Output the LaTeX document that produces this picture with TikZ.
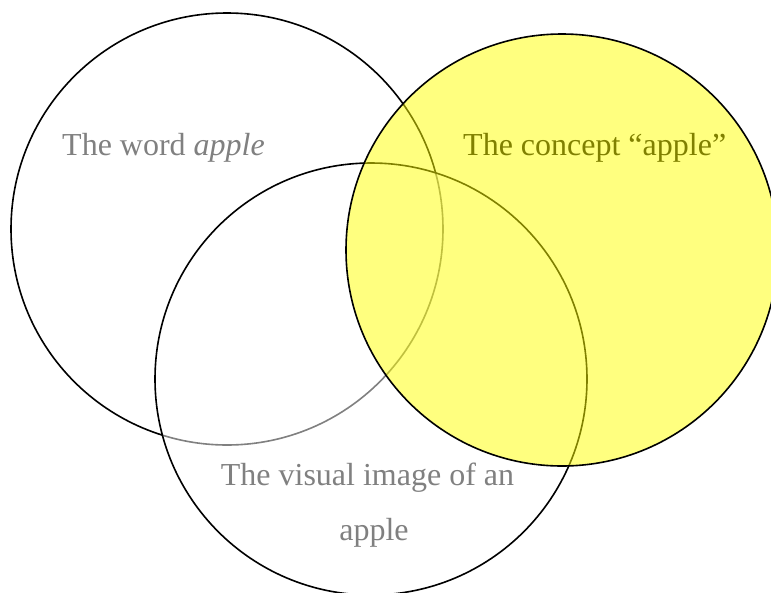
\documentclass[tikz,border=0pt]{standalone}
\usepackage{fontspec}
\setmainfont{Liberation Serif}
\definecolor{txtgray}{RGB}{128,128,128}
\definecolor{txtolive}{RGB}{128,128,0}
\definecolor{circyellow}{RGB}{255,255,0}
\begin{document}
\begin{tikzpicture}[x=1pt,y=-1pt,
  circ/.style={draw=black,line width=1.6pt},
  lbl/.style={inner sep=0pt,anchor=base west,font=\fontsize{32}{38}\selectfont,text=txtgray}]
\useasboundingbox (0,0) rectangle (771,592);
\clip (0,0) rectangle (771,592);
\draw[circ] (227,229) circle[radius=216];
\draw[circ,fill=white,fill opacity=0.5] (371,379) circle[radius=216];
\draw[circ,fill=circyellow,fill opacity=0.5] (562,250) circle[radius=216];
\node[lbl] (word) at (62,155) {The word \textit{apple}};
\node[lbl,text=txtolive] (concept) at (463,155) {The concept “apple”};
\node[lbl,anchor=base] (visual1) at (367.5,485) {The visual image of an};
\node[lbl,anchor=base] (visual2) at (374,540) {apple};
\end{tikzpicture}
\end{document}
